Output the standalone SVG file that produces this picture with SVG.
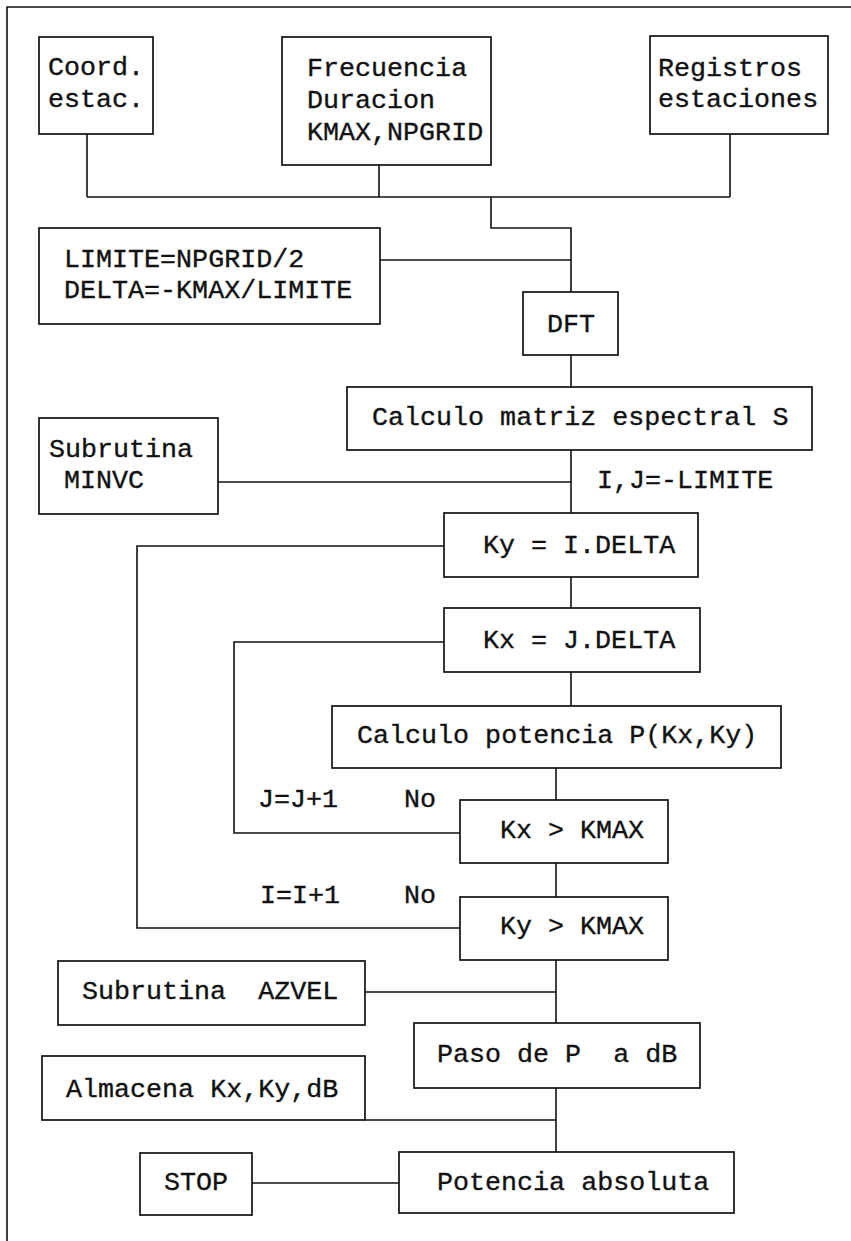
<svg xmlns="http://www.w3.org/2000/svg" width="851" height="1241" viewBox="0 0 851 1241">
  <style>
    .box { fill: #fff; stroke: #111; stroke-width: 1.7; }
    .ln { fill: none; stroke: #111; stroke-width: 1.6; }
    text { font-family: "Liberation Mono", "Courier New", monospace; font-size: 26.7px; fill: #111; stroke: #111; stroke-width: 0.35; }
  </style>
  <rect x="0" y="0" width="851" height="1241" fill="#fff"/>
  <!-- page frame -->
  <path class="ln" d="M7,1241 V7 H851"/>

  <g id="connectors">
    <path class="ln" d="M87,134 V197 M379,165 V197 M730,134 V197 M87,197 H730"/>
    <path class="ln" d="M491,197 V228 H571 V292"/>
    <path class="ln" d="M380,260 H571"/>
    <path class="ln" d="M571,355 V387"/>
    <path class="ln" d="M571,450 V513"/>
    <path class="ln" d="M218,482 H571"/>
    <path class="ln" d="M571,577 V608"/>
    <path class="ln" d="M444,546 H137 V928 H460"/>
    <path class="ln" d="M444,642 H234 V833 H460"/>
    <path class="ln" d="M571,672 V706"/>
    <path class="ln" d="M556,768 V800"/>
    <path class="ln" d="M556,863 V897"/>
    <path class="ln" d="M556,960 V1023"/>
    <path class="ln" d="M365,992 H556"/>
    <path class="ln" d="M556,1088 V1152"/>
    <path class="ln" d="M365,1120 H556"/>
    <path class="ln" d="M252,1183 H399"/>
    <text x="597" y="488">I,J=-LIMITE</text>
    <text x="258" y="807">J=J+1</text>
    <text x="404" y="807">No</text>
    <text x="260" y="903">I=I+1</text>
    <text x="404" y="903">No</text>
  </g>

  <g id="coord">
    <rect class="box" x="39" y="37" width="114" height="97"/>
    <text x="48" y="75">Coord.</text>
    <text x="48" y="107">estac.</text>
  </g>
  <g id="frecuencia">
    <rect class="box" x="282" y="37" width="209" height="128"/>
    <text x="307" y="76">Frecuencia</text>
    <text x="307" y="108">Duracion</text>
    <text x="307" y="140">KMAX,NPGRID</text>
  </g>
  <g id="registros">
    <rect class="box" x="650" y="36" width="178" height="98"/>
    <text x="658" y="76">Registros</text>
    <text x="658" y="107">estaciones</text>
  </g>
  <g id="limite">
    <rect class="box" x="39" y="228" width="341" height="96"/>
    <text x="64" y="267">LIMITE=NPGRID/2</text>
    <text x="64" y="298">DELTA=-KMAX/LIMITE</text>
  </g>
  <g id="dft">
    <rect class="box" x="523" y="292" width="95" height="63"/>
    <text x="547" y="332">DFT</text>
  </g>
  <g id="matriz">
    <rect class="box" x="347" y="387" width="465" height="63"/>
    <text x="372" y="425">Calculo matriz espectral S</text>
  </g>
  <g id="minvc">
    <rect class="box" x="39" y="418" width="179" height="96"/>
    <text x="49" y="457">Subrutina</text>
    <text x="64" y="488">MINVC</text>
  </g>
  <g id="ky">
    <rect class="box" x="444" y="513" width="254" height="64"/>
    <text x="483" y="553">Ky = I.DELTA</text>
  </g>
  <g id="kx">
    <rect class="box" x="444" y="608" width="256" height="64"/>
    <text x="483" y="648">Kx = J.DELTA</text>
  </g>
  <g id="potencia">
    <rect class="box" x="332" y="706" width="449" height="62"/>
    <text x="357" y="743">Calculo potencia P(Kx,Ky)</text>
  </g>
  <g id="kx-test">
    <rect class="box" x="460" y="800" width="208" height="63"/>
    <text x="500" y="838">Kx &gt; KMAX</text>
  </g>
  <g id="ky-test">
    <rect class="box" x="460" y="897" width="208" height="63"/>
    <text x="500" y="934">Ky &gt; KMAX</text>
  </g>
  <g id="azvel">
    <rect class="box" x="58" y="961" width="307" height="64"/>
    <text x="82" y="999" xml:space="preserve">Subrutina  AZVEL</text>
  </g>
  <g id="paso">
    <rect class="box" x="414" y="1023" width="286" height="65"/>
    <text x="437" y="1062" xml:space="preserve">Paso de P  a dB</text>
  </g>
  <g id="almacena">
    <rect class="box" x="42" y="1056" width="323" height="64"/>
    <text x="66" y="1097">Almacena Kx,Ky,dB</text>
  </g>
  <g id="stop">
    <rect class="box" x="140" y="1153" width="112" height="62"/>
    <text x="164" y="1190">STOP</text>
  </g>
  <g id="potencia-abs">
    <rect class="box" x="399" y="1152" width="335" height="61"/>
    <text x="437" y="1190">Potencia absoluta</text>
  </g>
</svg>
